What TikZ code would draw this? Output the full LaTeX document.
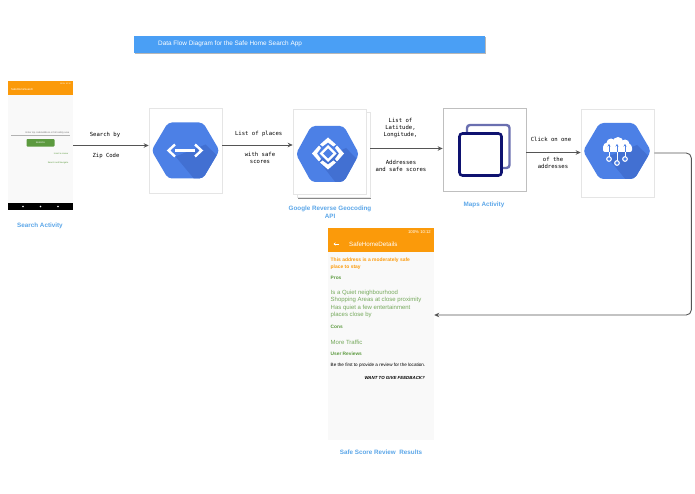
\documentclass[tikz,border=0pt]{standalone}
\usepackage{fontspec}
\setmainfont{Liberation Sans}
\setmonofont{DejaVu Sans Mono}
\usetikzlibrary{calc}
\usetikzlibrary{arrows.meta,shadows}
\definecolor{hexblue}{HTML}{4C80E6}
\definecolor{hexdark}{HTML}{4270D2}
\definecolor{barblue}{HTML}{4A9FF5}
\definecolor{capblue}{HTML}{5BA6E8}
\definecolor{apporange}{HTML}{FB9A0A}
\definecolor{appgreen}{HTML}{5C9A3F}
\definecolor{navy}{HTML}{0E1270}
\definecolor{paleviolet}{HTML}{6A6FB0}
\definecolor{linegray}{HTML}{555555}
\tikzset{
  cardbox/.style={draw=black!10,fill=white,line width=.6pt,inner sep=0pt,
    drop shadow={shadow xshift=1.2pt,shadow yshift=-1.2pt,fill=black!55,opacity=.85}},
  phonebox/.style={fill=black!2.5,inner sep=0pt},
  flowline/.style={draw=linegray,line width=.9pt,-{Stealth[length=5pt,width=4.5pt]}},
  flowtext/.style={font=\ttfamily\fontsize{5.6}{7}\selectfont,align=center,inner sep=0pt,text=black},
  captext/.style={font=\bfseries\fontsize{6.3}{7.6}\selectfont,align=center,inner sep=0pt,text=capblue},
  apptext/.style={anchor=west,inner sep=0pt,text=appgreen},
  hexbase/.pic={
    \fill[hexblue,rounded corners=4pt] (-34,0)--(-17.5,-28)--(17.5,-28)--(34,0)--(17.5,28)--(-17.5,28)--cycle;
    \begin{scope}
      \clip[rounded corners=4pt] (-34,0)--(-17.5,-28)--(17.5,-28)--(34,0)--(17.5,28)--(-17.5,28)--cycle;
      \fill[hexdark] (-10,6)--(20,-6)--(45,18)--(20,42)--cycle;
    \end{scope}
  }
}
\begin{document}
\begin{tikzpicture}[x=1pt,y=-1pt]
\useasboundingbox (0,0) rectangle (695,494);

% title
\node[fill=barblue,minimum width=351pt,minimum height=17pt,inner sep=0pt,
  drop shadow={shadow xshift=.6pt,shadow yshift=-.6pt,fill=black!40,opacity=.7}] (titlebar) at (309.5,44.5) {};
\node[anchor=west,inner sep=0pt,text=white,font=\fontsize{6.4}{8}\selectfont] (titletext) at (158,44) {Data Flow Diagram for the Safe Home Search App};

% search phone
\node[phonebox,minimum width=65pt,minimum height=129pt] (search) at (40.5,145.5) {};
\fill[apporange] (search.north west) rectangle (73,95);
\fill[black] (8,203) rectangle (search.south east);
\foreach \dotx in {23,40.5,58} \fill[white] (\dotx,206.5) circle (.9);
\node[inner sep=0pt,text=white,font=\fontsize{2.8}{3}\selectfont,anchor=west] (searchhead) at (11,90) {SafeHomeSearch};
\node[inner sep=0pt,text=white,font=\fontsize{2}{3}\selectfont,anchor=east] (searchstatus) at (71,84) {100\% 10:12};
\node[inner sep=0pt,text=black!55,font=\fontsize{2.4}{3}\selectfont,anchor=east] (searchfield) at (69.5,133) {Enter zip code/address or full safety area};
\draw[black!30,line width=.3pt] (11,134.8) -- (70,134.8);
\node[fill=appgreen,minimum width=28pt,minimum height=7.5pt,inner sep=0pt,rounded corners=.8pt,text=white,font=\fontsize{2.2}{3}\selectfont] (searchbtn) at (40.5,142.8) {SEARCH};
\node[inner sep=0pt,text=appgreen,font=\fontsize{2.2}{3}\selectfont,anchor=east] (searchlinka) at (68.5,153.5) {Insert a review};
\node[inner sep=0pt,text=appgreen,font=\fontsize{2.2}{3}\selectfont,anchor=east] (searchlinkb) at (68.5,162.5) {Search and Navigate};
\node[captext] (searchcap) at (40,225.5) {Search Activity};

% proxy card
\node[cardbox,minimum width=73pt,minimum height=85pt] (proxy) at (185.5,150.5) {};
\pic at (proxy) {hexbase};
\draw[white,line width=2.4pt] (175,144.5) -- (168.5,150.5) -- (175,156.5);
\draw[white,line width=2.4pt] (195,144.5) -- (201.5,150.5) -- (195,156.5);
\fill[white] (175,149.3) rectangle (195,151.7);

% geocoding cards
\node[cardbox,minimum width=73pt,minimum height=85pt] (geoback) at (333.5,155) {};
\node[cardbox,minimum width=73pt,minimum height=85pt] (geo) at (329.5,151.5) {};
\pic[xscale=.93] at (327.5,154) {hexbase};
\foreach \ang in {0,90,180,270}
  \fill[white,shift={(328,153.5)},rotate=\ang] (9,-8)--(16,0)--(9,8)--(7,5.5)--(11,0)--(7,-5.5)--cycle;
\fill[white,shift={(328,153.5)}] (-8.5,0)--(0,-8.5)--(8.5,0)--(0,8.5)--cycle;
\fill[hexblue,shift={(328,153.5)}] (-5,0)--(0,-5)--(5,0)--(0,5)--cycle;
\node[captext] (geocap) at (330,212) {Google Reverse Geocoding\\API};

% maps card
\node[draw=black!25,fill=white,line width=.7pt,minimum width=83pt,minimum height=83pt,inner sep=0pt] (maps) at (484.5,149.5) {};
\draw[paleviolet,line width=2.4pt,rounded corners=3pt] (467,125) rectangle (509.5,168);
\draw[navy,fill=white,line width=2.6pt,rounded corners=3pt] (459.5,133.5) rectangle (501.5,175.5);
\node[captext] (mapscap) at (484,204.5) {Maps Activity};

% cloud card
\node[cardbox,minimum width=73pt,minimum height=88pt] (cloud) at (617.5,153) {};
\pic at (617,151) {hexbase};
\fill[white] (607.5,147) circle (4.5) (611,143) circle (4.5) (618,142.5) circle (5.5) (625,144) circle (4.5) (628,147.5) circle (4);
\fill[white,rounded corners=2pt] (603,146) rectangle (632,152);
\foreach \linex/\liney in {609/159,617/163,625/159}{
  \draw[hexblue,line width=1pt,-{Stealth[length=2.5pt,width=3pt]}] (\linex,152) -- (\linex,144);
  \draw[white,line width=1pt] (\linex,152) -- (\linex,\liney-2);
  \draw[white,fill=hexblue,line width=1.1pt] (\linex,\liney) circle (2.3);
}

% details phone
\node[phonebox,minimum width=106pt,minimum height=212pt] (details) at (381,334) {};
\fill[apporange] (details.north west) rectangle (434,252);
\node[anchor=east,inner sep=0pt,text=white,font=\fontsize{4.2}{5}\selectfont] (detailstatus) at (431,232.5) {100\%\,\,10:12};
\node[anchor=west,inner sep=0pt,text=white,font=\fontsize{6.2}{7}\selectfont] (detailhead) at (349,244) {SafeHomeDetails};
\draw[white,line width=.6pt,-{Stealth[length=2pt,width=3pt]}] (339,244) -- (333.5,244);
\foreach \linename/\liney/\linetext in {a/260/This address is a moderately safe,b/267/place to stay}
  \node[apptext,text=apporange,font=\bfseries\fontsize{4.95}{5}\selectfont] (detail\linename) at (330.5,\liney) {\linetext};
\foreach \linename/\liney/\linetext in {c/278/Pros,d/327/Cons,e/354/User Reviews}
  \node[apptext,font=\bfseries\fontsize{4.8}{5}\selectfont] (detail\linename) at (330.5,\liney) {\linetext};
\foreach \linename/\liney/\linetext in {f/293/Is a Quiet neighbourhood,g/300/Shopping Areas at close proximity,h/307.5/Has quiet a few entertainment,i/315/places close by,j/342/More Traffic}
  \node[apptext,text=appgreen!85,font=\fontsize{6}{7}\selectfont] (detail\linename) at (330.5,\liney) {\linetext};
\node[apptext,text=black,font=\fontsize{4.6}{5}\selectfont] (detailk) at (330.5,365) {Be the first to provide a review for the location.};
\node[anchor=east,inner sep=0pt,font=\bfseries\itshape\fontsize{4.4}{5}\selectfont] (detaill) at (425,378) {WANT TO GIVE FEEDBACK?};
\node[captext] (detailcap) at (381,452) {Safe Score Review\ \ Results};

% flow
\draw[flowline] (search.east) -- (search.east -| proxy.west);
\node[flowtext] (lblsearch) at (105,135) {Search by};
\node[flowtext] (lblzip) at (106,156) {Zip Code};
\draw[flowline] ([yshift=5.5pt]proxy.east) -- ([yshift=5.5pt]proxy.east -| geo.west);
\node[flowtext] (lblplaces) at (258.7,134) {List of places};
\node[flowtext] (lblsafe) at (260,158) {with safe\\scores};
\draw[flowline] ([yshift=6.5pt]geoback.east) -- ([yshift=6.5pt]geoback.east -| maps.west);
\node[flowtext] (lbllat) at (400.5,128) {List of\\Latitude,\\Longitude,};
\node[flowtext] (lbladdr) at (401,166) {Addresses\\and safe scores};
\draw[flowline] ([yshift=-3pt]maps.east) -- ([yshift=-3pt]maps.east -| cloud.west);
\node[flowtext] (lblclick) at (551,139) {Click on one};
\node[flowtext] (lblone) at (553,163) {of the\\addresses};
\draw[flowline,rounded corners=5pt] (cloud.east) -- ++(37,0) |- ([yshift=19pt]details.east);
\end{tikzpicture}
\end{document}
